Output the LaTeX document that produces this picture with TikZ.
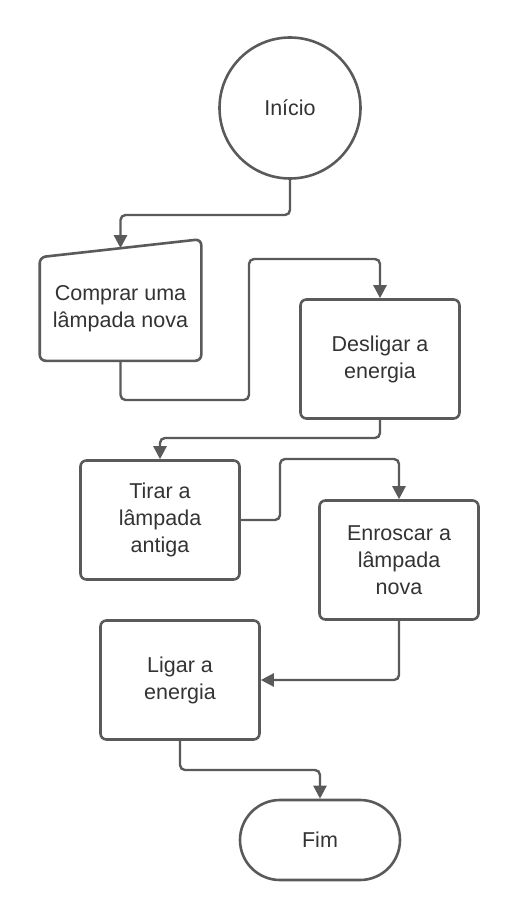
\documentclass[tikz,border=0pt]{standalone}
\usepackage{fontspec}
\setmainfont{Liberation Sans}
\usetikzlibrary{arrows.meta}

\definecolor{flowline}{HTML}{5A5A5A}
\definecolor{flowtext}{HTML}{333333}

\begin{document}
\begin{tikzpicture}[
  x=1pt, y=-1pt,
  every node/.style={font=\fontsize{21.5}{27}\selectfont, text=flowtext, align=center},
  box/.style={rectangle, draw=flowline, line width=2.6pt, rounded corners=6pt, minimum width=159pt, minimum height=119pt, inner sep=0pt},
  flow/.style={draw=flowline, line width=2.4pt, rounded corners=5pt, -{Triangle[width=13pt,length=13pt]}}
]
\useasboundingbox (0,0) rectangle (520,920);

% Nodes
\node[circle, draw=flowline, line width=2.6pt, minimum size=141pt] (start) at (290,108) {Início};
\node[box, draw=none, minimum height=101pt] (buy) at (120.5,309) {Comprar uma\\lâmpada nova};
\coordinate (buyin) at ([yshift=9pt]buy.north);
\node[box] (off) at (380,359) {Desligar a\\energia};
\node[box] (remove) at (160,520) {Tirar a\\lâmpada\\antiga};
\node[box] (screw) at (399,560) {Enroscar a\\lâmpada\\nova};
\node[box] (on) at (180,680) {Ligar a\\energia};
\node[rectangle, draw=flowline, line width=2.6pt, rounded corners=40pt, minimum width=160pt, minimum height=80pt] (end) at (320,840) {Fim};

% Manual input outline
\draw[flowline, line width=2.6pt, rounded corners=6pt] (buy.west) -- (buy.north west) -- ([yshift=18pt]buy.north east) -- (buy.south east) -- (buy.south west) -- cycle;

% Edges
\draw[flow] (start.south) -- (start.south |- 0,215) -| (buyin);
\draw[flow] (buy.south) |- (249,400) |- (off.north |- 0,259) -- (off.north);
\draw[flow] (off.south) |- (remove.north |- 0,438) -- (remove.north);
\draw[flow] (remove.east) -| (280,459) -| (screw.north);
\draw[flow] (screw.south) |- (on.east);
\draw[flow] (on.south) |- (end.north |- 0,770) -- (end.north);

\end{tikzpicture}
\end{document}
